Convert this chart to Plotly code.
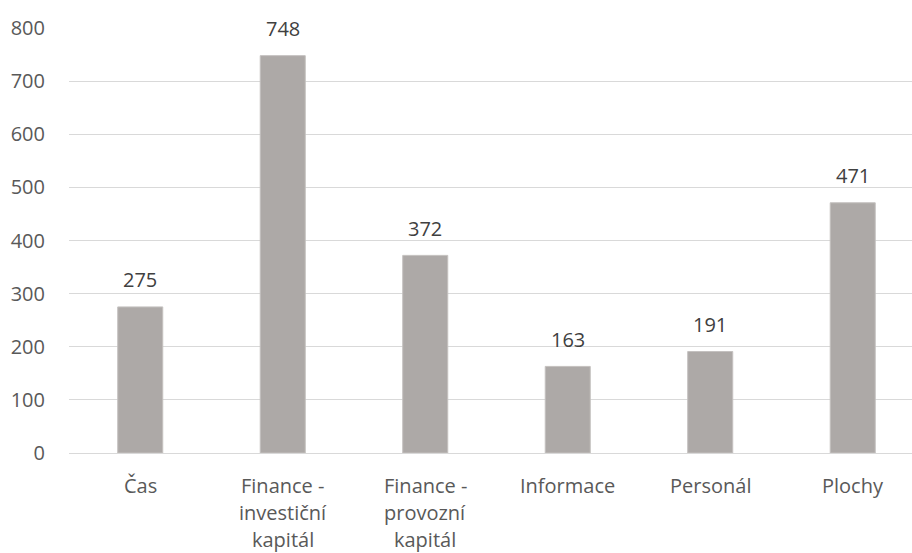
import plotly.graph_objects as go

categories = ["Čas", "Finance - investiční kapitál", "Finance - provozní kapitál",
              "Informace", "Personál", "Plochy"]
label_lines = [["Čas"], ["Finance -", "investiční", "kapitál"], ["Finance -", "provozní", "kapitál"],
               ["Informace"], ["Personál"], ["Plochy"]]
values = [275, 748, 372, 163, 191, 471]
y_ticks = [0, 100, 200, 300, 400, 500, 600, 700, 800]

font_family = "'Open Sans', sans-serif"
text_color = "#595959"
font_size = 20

fig = go.Figure(
    go.Bar(
        x=categories,
        y=values,
        marker=dict(color="#ADA9A7", line=dict(color="#C4C1BF", width=1)),
        width=0.316,
        hoverinfo="x+y",
    )
)

# value labels above the bars
for cat, val in zip(categories, values):
    fig.add_annotation(
        x=cat, y=val, text=str(val), showarrow=False,
        yanchor="middle", yshift=27,
        font=dict(family=font_family, size=font_size, color="#404040"),
    )

# wrapped category labels under the axis
for cat, lines in zip(categories, label_lines):
    for i, line in enumerate(lines):
        fig.add_annotation(
            x=cat, y=0, text=line, showarrow=False,
            yanchor="middle", yshift=-32 - 27 * i,
            font=dict(family=font_family, size=font_size, color=text_color),
        )

fig.update_layout(
    width=912, height=553,
    margin=dict(l=69, r=0, t=28, b=100),
    paper_bgcolor="white", plot_bgcolor="white",
    showlegend=False,
    font=dict(family=font_family, size=font_size, color=text_color),
    xaxis=dict(
        range=[-0.5, 5.416],
        showgrid=False, showline=False, ticks="", zeroline=False,
        showticklabels=False,
    ),
    yaxis=dict(
        range=[0, 800], tickvals=y_ticks,
        showgrid=True, gridcolor="#D9D9D9", gridwidth=1,
        zeroline=True, zerolinecolor="#D9D9D9", zerolinewidth=1,
        showline=False, ticks="",
        tickfont=dict(size=font_size, color=text_color),
        ticklabelstandoff=23,
    ),
)

fig.write_html("out.html")
